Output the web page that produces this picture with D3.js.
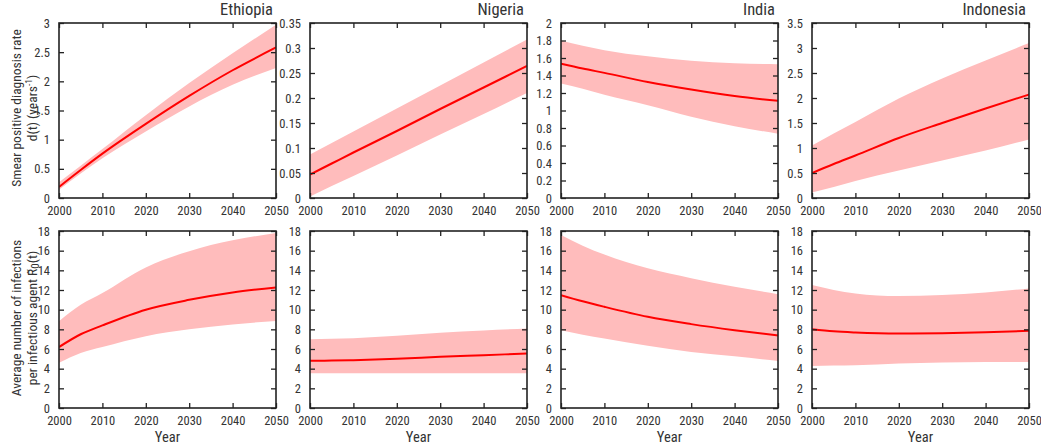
<!DOCTYPE html>
<html>
<head>
<meta charset="utf-8">
<script src="https://cdn.jsdelivr.net/npm/d3@7"></script>
<style>
  html, body { margin: 0; padding: 0; background: #fff; }
  svg { display: block; }
  text { font-family: "Roboto Condensed", "DejaVu Sans Condensed", sans-serif; font-weight: 400; fill: #333; }
</style>
</head>
<body>
<svg id="chart" width="1041" height="448"></svg>
<script>
// Projection years shared by every panel
const years = [2000, 2005, 2010, 2020, 2030, 2040, 2050];
const countries = ["Ethiopia", "Nigeria", "India", "Indonesia"];

// Smear positive diagnosis rate d(t), per country: central estimate and band
const diagMean = [
  [0.19, 0.48, 0.76, 1.27, 1.75, 2.19, 2.58],
  [0.047, 0.069, 0.091, 0.134, 0.178, 0.221, 0.264],
  [1.535, 1.48, 1.43, 1.326, 1.24, 1.166, 1.11],
  [0.50, 0.68, 0.85, 1.20, 1.50, 1.79, 2.07]
];
const diagLow = [
  [0.14, 0.42, 0.68, 1.14, 1.57, 1.94, 2.23],
  [0.003, 0.024, 0.044, 0.085, 0.127, 0.168, 0.21],
  [1.31, 1.25, 1.18, 1.06, 0.93, 0.82, 0.735],
  [0.11, 0.22, 0.34, 0.55, 0.75, 0.95, 1.17]
];
const diagHigh = [
  [0.27, 0.555, 0.84, 1.42, 1.97, 2.48, 2.97],
  [0.087, 0.11, 0.133, 0.179, 0.225, 0.271, 0.317],
  [1.80, 1.74, 1.69, 1.62, 1.57, 1.54, 1.53],
  [1.05, 1.29, 1.52, 1.99, 2.39, 2.75, 3.10]
];

// Average number of infections per infectious agent R0(t)
const r0Mean = [
  [6.2, 7.5, 8.4, 10.0, 11.0, 11.75, 12.25],
  [4.8, 4.82, 4.86, 5.0, 5.2, 5.37, 5.54],
  [11.48, 10.85, 10.29, 9.27, 8.53, 7.91, 7.37],
  [8.02, 7.8, 7.68, 7.57, 7.6, 7.7, 7.85]
];
const r0Low = [
  [4.6, 5.6, 6.2, 7.3, 8.0, 8.5, 8.85],
  [3.53, 3.53, 3.53, 3.53, 3.53, 3.53, 3.53],
  [7.91, 7.45, 7.06, 6.32, 5.7, 5.26, 4.79],
  [4.28, 4.32, 4.35, 4.52, 4.62, 4.69, 4.69]
];
const r0High = [
  [8.83, 10.5, 11.7, 14.3, 15.95, 17.05, 17.8],
  [7.0, 7.05, 7.1, 7.34, 7.64, 7.88, 8.08],
  [17.6, 16.5, 15.6, 14.2, 13.2, 12.33, 11.58],
  [12.5, 12.0, 11.65, 11.38, 11.48, 11.75, 12.16]
];

// Axis ticks
const xTicks = [2000, 2010, 2020, 2030, 2040, 2050];
const diagMax = [3, 0.35, 2, 3.5];
const diagStep = [0.5, 0.05, 0.2, 0.5];
const r0Max = 18;
const r0Step = 2;

const svg = d3.select("#chart");
const panelW = 217;
const colX = [59, 310, 561, 812];
const rows = [
  { top: 23, h: 175, mean: diagMean, low: diagLow, high: diagHigh },
  { top: 231, h: 177, mean: r0Mean, low: r0Low, high: r0High }
];

const fmt = v => String(+v.toFixed(3));

rows.forEach((row, ri) => {
  countries.forEach((name, ci) => {
    const x0 = colX[ci], y0 = row.top;
    const yMax = ri === 0 ? diagMax[ci] : r0Max;
    const step = ri === 0 ? diagStep[ci] : r0Step;
    const yTicks = d3.range(0, Math.round(yMax / step) + 1).map(k => +(k * step).toFixed(3));

    const x = d3.scaleLinear().domain([2000, 2050]).range([0, panelW]);
    const y = d3.scaleLinear().domain([0, yMax]).range([row.h, 0]);

    const g = svg.append("g").attr("transform", `translate(${x0},${y0})`);
    const clipId = `clip-${ri}-${ci}`;
    g.append("clipPath").attr("id", clipId)
      .append("rect").attr("width", panelW).attr("height", row.h);

    const pts = years.map((yr, i) => ({ yr, m: row.mean[ci][i], lo: row.low[ci][i], hi: row.high[ci][i] }));

    const plot = g.append("g").attr("clip-path", `url(#${clipId})`);
    plot.append("path").datum(pts)
      .attr("fill", "#ffbcbc")
      .attr("d", d3.area().curve(d3.curveMonotoneX)
        .x(d => x(d.yr)).y0(d => y(d.lo)).y1(d => y(d.hi)));
    plot.append("path").datum(pts)
      .attr("fill", "none").attr("stroke", "#ff0000").attr("stroke-width", 2)
      .attr("d", d3.line().curve(d3.curveMonotoneX).x(d => x(d.yr)).y(d => y(d.m)));

    // Axes with inward ticks on all four sides
    const tk = 5;
    const bottom = g.append("g").attr("transform", `translate(0,${row.h})`)
      .call(d3.axisBottom(x).tickValues(xTicks).tickFormat(d3.format("d")).tickSize(-tk).tickPadding(8));
    const top = g.append("g")
      .call(d3.axisTop(x).tickValues(xTicks).tickFormat("").tickSize(-tk));
    const left = g.append("g")
      .call(d3.axisLeft(y).tickValues(yTicks).tickFormat(fmt).tickSize(-tk).tickPadding(9));
    const right = g.append("g").attr("transform", `translate(${panelW},0)`)
      .call(d3.axisRight(y).tickValues(yTicks).tickFormat("").tickSize(-tk));
    [bottom, top, left, right].forEach(a => {
      a.select(".domain").remove();
      a.selectAll(".tick line").attr("stroke", "#222").attr("stroke-width", 1.3);
      a.selectAll(".tick text").attr("font-size", 12.5).attr("fill", "#333")
        .style("font-family", '"Roboto Condensed", "DejaVu Sans Condensed", sans-serif')
        .style("font-weight", 400);
    });

    g.append("rect").attr("width", panelW).attr("height", row.h)
      .attr("fill", "none").attr("stroke", "#222").attr("stroke-width", 1.6);

    if (ri === 0) {
      g.append("text").attr("x", panelW - 3).attr("y", -8)
        .attr("text-anchor", "end").attr("font-size", 16.5).text(name);
    } else {
      g.append("text").attr("x", panelW / 2).attr("y", row.h + 34)
        .attr("text-anchor", "middle").attr("font-size", 14.5).text("Year");
    }
  });
});

// Row titles on the left
const yl1 = svg.append("text").attr("transform", "translate(21,108) rotate(-90)")
  .attr("text-anchor", "middle").attr("font-size", 13.5);
yl1.append("tspan").attr("x", 0).attr("dy", 0).text("Smear positive diagnosis rate");
const l1b = yl1.append("tspan").attr("x", 0).attr("dy", 16);
l1b.append("tspan").text("d(t) (years");
l1b.append("tspan").attr("dy", -5).attr("font-size", 9.5).text("-1");
l1b.append("tspan").attr("dy", 5).text(")");

const yl2 = svg.append("text").attr("transform", "translate(21,318) rotate(-90)")
  .attr("text-anchor", "middle").attr("font-size", 13.5);
yl2.append("tspan").attr("x", 0).attr("dy", 0).text("Average number of infections");
const l2b = yl2.append("tspan").attr("x", 0).attr("dy", 16);
l2b.append("tspan").text("per infectious agent  R\u0303");
l2b.append("tspan").attr("dy", 2).attr("font-size", 11).text("0");
l2b.append("tspan").attr("dy", -2).text("(t)");
</script>
</body>
</html>
